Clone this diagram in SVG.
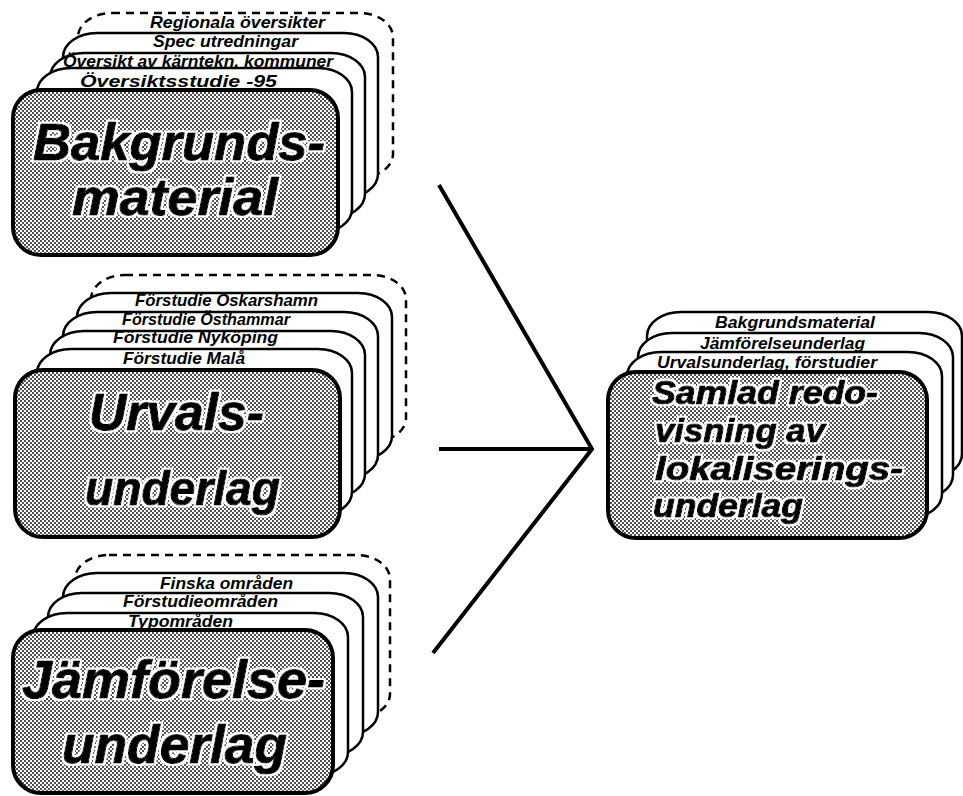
<svg xmlns="http://www.w3.org/2000/svg" width="963" height="796" viewBox="0 0 963 796">
  <defs>
    <!-- halftone screen used for the front cards -->
    <pattern id="dots" width="4" height="4" patternUnits="userSpaceOnUse">
      <rect width="4" height="4" fill="#fff"/>
      <circle cx="1" cy="1" r="0.9" fill="#000"/>
      <circle cx="3" cy="3" r="0.9" fill="#000"/>
    </pattern>
    <!-- thin white outline around the headline lettering -->
    <filter id="halo" x="-5%" y="-25%" width="110%" height="150%">
      <feMorphology in="SourceAlpha" operator="dilate" radius="1.6" result="grown"/>
      <feFlood flood-color="#fff"/>
      <feComposite in2="grown" operator="in" result="rim"/>
      <feMerge>
        <feMergeNode in="rim"/>
        <feMergeNode in="SourceGraphic"/>
      </feMerge>
    </filter>
  </defs>
  <style>
    .main { fill: url(#dots); stroke: #000; stroke-width: 4; }
    .card { fill: #fff; stroke: #000; stroke-width: 2.5; }
    .dash { fill: #fff; stroke: #000; stroke-width: 2.5; stroke-dasharray: 8 6; }
    .lbl { font-family: "Liberation Sans", Arial, sans-serif; font-weight: bold; font-style: italic; font-size: 17px; fill: #000; }
    .big { font-family: "Liberation Sans", Arial, sans-serif; font-weight: bold; font-style: italic; fill: #000; stroke: #000; stroke-width: 1.2; stroke-linejoin: round; filter: url(#halo); }
    .conn { fill: none; stroke: #000; stroke-width: 4; stroke-linejoin: miter; }
  </style>
  <rect width="963" height="796" fill="#fff"/>

  <!-- Background material stack -->
  <g id="bakgrundsmaterial">
    <rect class="dash" x="78" y="13" width="315" height="165" rx="34" ry="24"/>
    <text class="lbl" x="150" y="28" textLength="175" lengthAdjust="spacingAndGlyphs">Regionala översikter</text>
    <rect class="card" x="63" y="33" width="315" height="165" rx="34" ry="24"/>
    <text class="lbl" x="153" y="47" textLength="145" lengthAdjust="spacingAndGlyphs">Spec utredningar</text>
    <rect class="card" x="50" y="53" width="315" height="165" rx="34" ry="24"/>
    <text class="lbl" x="63" y="67" textLength="270" lengthAdjust="spacingAndGlyphs">Översikt av kärntekn. kommuner</text>
    <rect class="card" x="37" y="68" width="315" height="165" rx="34" ry="24"/>
    <text class="lbl" x="80" y="87" textLength="197" lengthAdjust="spacingAndGlyphs">Översiktsstudie -95</text>
    <rect class="main" x="13" y="90" width="325" height="165" rx="28"/>
    <text class="big" x="33" y="160" font-size="52" textLength="292" lengthAdjust="spacingAndGlyphs">Bakgrunds-</text>
    <text class="big" x="72" y="215" font-size="52" textLength="206" lengthAdjust="spacingAndGlyphs">material</text>
  </g>

  <!-- Selection basis stack -->
  <g id="urvalsunderlag">
    <rect class="dash" x="91" y="275" width="315" height="167" rx="34" ry="24"/>
    <rect class="card" x="77" y="293" width="315" height="167" rx="34" ry="24"/>
    <text class="lbl" x="135" y="306" textLength="183" lengthAdjust="spacingAndGlyphs">Förstudie Oskarshamn</text>
    <rect class="card" x="63" y="312" width="315" height="167" rx="34" ry="24"/>
    <text class="lbl" x="122" y="325" textLength="168" lengthAdjust="spacingAndGlyphs">Förstudie Östhammar</text>
    <rect class="card" x="50" y="331" width="315" height="167" rx="34" ry="24"/>
    <text class="lbl" x="113" y="343" textLength="165" lengthAdjust="spacingAndGlyphs">Förstudie Nyköping</text>
    <rect class="card" x="37" y="349" width="315" height="167" rx="34" ry="24"/>
    <text class="lbl" x="123" y="364" textLength="122" lengthAdjust="spacingAndGlyphs">Förstudie Malå</text>
    <rect class="main" x="15" y="370" width="325" height="167" rx="28"/>
    <text class="big" x="89" y="430" font-size="52" textLength="175" lengthAdjust="spacingAndGlyphs">Urvals-</text>
    <text class="big" x="85" y="505" font-size="48" textLength="195" lengthAdjust="spacingAndGlyphs">underlag</text>
  </g>

  <!-- Comparison basis stack -->
  <g id="jamforelseunderlag">
    <rect class="dash" x="75" y="555" width="315" height="163" rx="34" ry="24"/>
    <rect class="card" x="63" y="573" width="315" height="163" rx="34" ry="24"/>
    <text class="lbl" x="160" y="589" textLength="133" lengthAdjust="spacingAndGlyphs">Finska områden</text>
    <rect class="card" x="48" y="593" width="315" height="163" rx="34" ry="24"/>
    <text class="lbl" x="123" y="607" textLength="155" lengthAdjust="spacingAndGlyphs">Förstudieområden</text>
    <rect class="card" x="33" y="613" width="315" height="163" rx="34" ry="24"/>
    <text class="lbl" x="128" y="627" textLength="105" lengthAdjust="spacingAndGlyphs">Typområden</text>
    <rect class="main" x="13" y="630" width="320" height="163" rx="28"/>
    <text class="big" x="22" y="698" font-size="54" textLength="303" lengthAdjust="spacingAndGlyphs">Jämförelse-</text>
    <text class="big" x="62" y="763" font-size="54" textLength="225" lengthAdjust="spacingAndGlyphs">underlag</text>
  </g>

  <!-- Combined report stack -->
  <g id="samlad-redovisning">
    <rect class="card" x="647" y="312" width="315" height="166" rx="34" ry="24"/>
    <text class="lbl" x="715" y="328" textLength="160" lengthAdjust="spacingAndGlyphs">Bakgrundsmaterial</text>
    <rect class="card" x="638" y="333" width="315" height="166" rx="34" ry="24"/>
    <text class="lbl" x="700" y="349" textLength="165" lengthAdjust="spacingAndGlyphs">Jämförelseunderlag</text>
    <rect class="card" x="627" y="352" width="315" height="166" rx="34" ry="24"/>
    <text class="lbl" x="657" y="368" textLength="220" lengthAdjust="spacingAndGlyphs">Urvalsunderlag, förstudier</text>
    <rect class="main" x="608" y="372" width="319" height="166" rx="28"/>
    <text class="big" x="652" y="404" font-size="34" textLength="226" lengthAdjust="spacingAndGlyphs">Samlad redo-</text>
    <text class="big" x="655" y="442" font-size="34" textLength="170" lengthAdjust="spacingAndGlyphs">visning av</text>
    <text class="big" x="655" y="480" font-size="34" textLength="248" lengthAdjust="spacingAndGlyphs">lokaliserings-</text>
    <text class="big" x="653" y="517" font-size="34" textLength="150" lengthAdjust="spacingAndGlyphs">underlag</text>
  </g>

  <!-- Converging connectors -->
  <g id="connectors">
    <path class="conn" d="M439,185 L592,449 L433,653"/>
    <path class="conn" d="M439,449 L592,449"/>
  </g>
</svg>
